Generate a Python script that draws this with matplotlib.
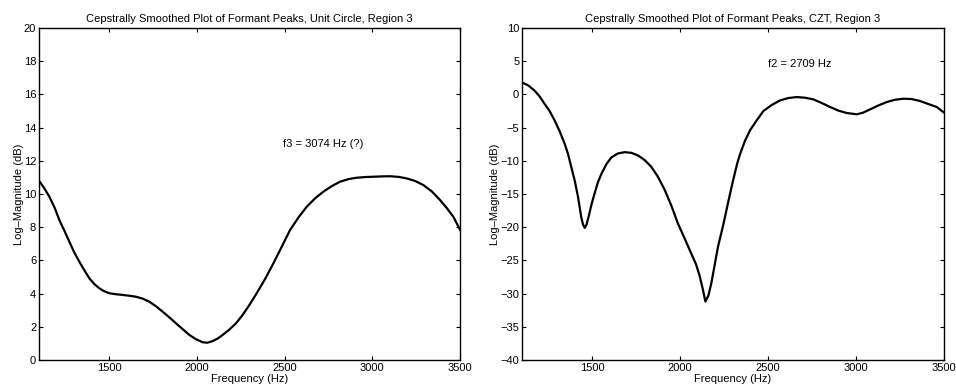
import matplotlib
matplotlib.use("Agg")
import matplotlib.pyplot as plt

plt.rcParams['font.family'] = ['Liberation Sans', 'DejaVu Sans']

# Left panel: Unit circle, region 3
freq_uc = [1100, 1130, 1159, 1190, 1216, 1245, 1273, 1300, 1330, 1360, 1387, 1415, 1444, 1470,
           1501, 1540, 1577, 1615, 1653, 1690, 1729, 1765, 1805, 1843, 1881, 1920, 1957, 1995,
           2033, 2060, 2090, 2120, 2147, 2185, 2223, 2260, 2299, 2341, 2390, 2436, 2485, 2531,
           2580, 2626, 2675, 2721, 2770, 2816, 2865, 2911, 2960, 3006, 3055, 3101, 3150, 3196,
           3245, 3291, 3340, 3386, 3425, 3462, 3500]
mag_uc = [10.8, 10.35, 9.84, 9.15, 8.43, 7.78, 7.13, 6.5, 5.92, 5.38, 4.92, 4.58, 4.32, 4.15,
          4.02, 3.96, 3.92, 3.87, 3.81, 3.7, 3.51, 3.25, 2.91, 2.57, 2.21, 1.85, 1.51, 1.25,
          1.07, 1.04, 1.14, 1.3, 1.51, 1.83, 2.21, 2.7, 3.31, 4.02, 4.9, 5.82, 6.85, 7.83,
          8.6, 9.23, 9.75, 10.14, 10.48, 10.74, 10.9, 10.98, 11.02, 11.04, 11.06, 11.07, 11.03, 10.94,
          10.78, 10.54, 10.15, 9.64, 9.15, 8.63, 7.85]

# Right panel: CZT, region 3
freq_czt = [1100, 1136, 1172, 1200, 1229, 1257, 1286, 1315, 1343, 1362, 1380, 1400, 1419, 1437,
            1447, 1457, 1467, 1479, 1495, 1513, 1531, 1551, 1580, 1608, 1645, 1684, 1722, 1760,
            1798, 1835, 1873, 1912, 1950, 1986, 2025, 2063, 2090, 2111, 2128, 2143, 2160, 2177,
            2195, 2215, 2245, 2272, 2300, 2325, 2340, 2368, 2397, 2435, 2473, 2520, 2568, 2615,
            2663, 2710, 2757, 2805, 2852, 2900, 2947, 3004, 3040, 3080, 3128, 3175, 3222, 3269,
            3316, 3364, 3411, 3459, 3500]
mag_czt = [1.8, 1.35, 0.55, -0.3, -1.45, -2.5, -3.95, -5.6, -7.45, -9.0, -10.9, -13.0, -15.5, -18.5,
           -19.6, -20.1, -19.6, -18.4, -16.6, -14.9, -13.3, -12.0, -10.5, -9.5, -8.9, -8.7, -8.8, -9.2,
           -9.9, -10.9, -12.4, -14.4, -16.8, -19.4, -21.7, -24.0, -25.6, -27.4, -29.3, -31.2, -30.3, -28.4,
           -25.8, -22.9, -19.6, -16.3, -13.0, -10.3, -9.0, -7.0, -5.4, -3.9, -2.5, -1.6, -0.9, -0.55,
           -0.4, -0.5, -0.75, -1.3, -1.9, -2.45, -2.8, -3.0, -2.75, -2.25, -1.65, -1.15, -0.8, -0.65,
           -0.7, -1.0, -1.45, -1.9, -2.75]

xticks = [1500, 2000, 2500, 3000, 3500]

fig = plt.figure(figsize=(9.56, 3.91), dpi=100)
ax1 = fig.add_axes([39/956, 31/391, 421/956, 332/391])
ax2 = fig.add_axes([522/956, 31/391, 422/956, 332/391])

fs = 8
for ax in (ax1, ax2):
    ax.tick_params(direction='in', top=True, right=True, labelsize=fs, length=3, width=0.8, pad=2)
    for s in ax.spines.values():
        s.set_linewidth(1.0)
    ax.set_xlim(1100, 3500)
    ax.set_xticks(xticks)
    ax.set_xlabel('Frequency (Hz)', fontsize=fs, labelpad=1)
    ax.set_ylabel('Log\u2013Magnitude (dB)', fontsize=fs, labelpad=0)

ax1.plot(freq_uc, mag_uc, color='black', linewidth=1.6)
ax1.set_ylim(0, 20)
ax1.set_yticks(range(0, 21, 2))
ax1.set_title('Cepstrally Smoothed Plot of Formant Peaks, Unit Circle, Region 3', fontsize=fs, pad=4)
ax1.text(2490, 13, 'f3 = 3074 Hz (?)', fontsize=fs, va='center', ha='left')

ax2.plot(freq_czt, mag_czt, color='black', linewidth=1.6)
ax2.set_ylim(-40, 10)
ax2.set_yticks(range(-40, 11, 5))
ax2.set_title('Cepstrally Smoothed Plot of Formant Peaks, CZT, Region 3', fontsize=fs, pad=4)
ax2.text(2500, 4.6, 'f2 = 2709 Hz', fontsize=fs, va='center', ha='left')

fig.savefig('out.png', dpi=100)
